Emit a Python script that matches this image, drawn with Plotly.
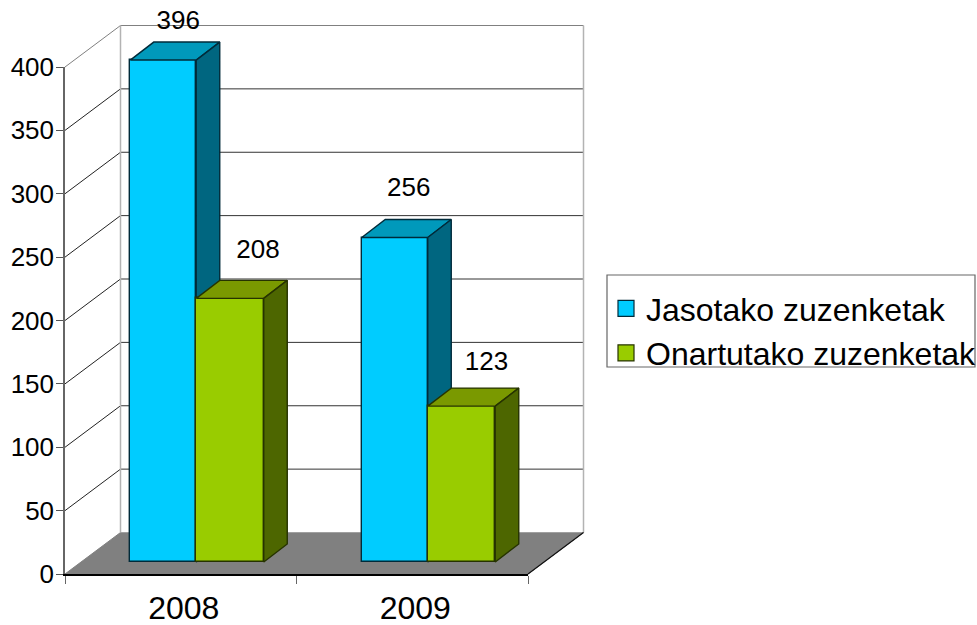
import plotly.graph_objects as go

# ---- data ----
years = ["2008", "2009"]
series_names = ["Jasotako zuzenketak", "Onartutako zuzenketak"]
received = [396, 256]
accepted = [208, 123]
y_ticks = [0, 50, 100, 150, 200, 250, 300, 350, 400]

# ---- pixel geometry of the oblique projection ----
L, R, T, B = 65, 528, 67, 574
W, H = 977, 625
PX_X = (R - L) / 2      # px per category
PX_Y = (B - T) / 400    # px per value unit
FONT = "Liberation Sans"

def ux(p): return p / PX_X
def uy(p): return p / PX_Y

WALL_X, WALL_Y = ux(55.5), uy(41.5)
FRONT_X, FRONT_Y = ux(15.5), uy(12)
DEPTH_X, DEPTH_Y = ux(23.5), uy(18)
BLUE_W, GREEN_W = ux(66), ux(67.5)

cats = list(range(len(years)))
x0, x1 = -0.5, 1.5
traces = []

def poly(xs, ys, fill, line, axes, width=1.4):
    traces.append(go.Scatter(x=xs + xs[:1], y=ys + ys[:1], mode="lines", fill="toself",
                             fillcolor=fill, line=dict(color=line, width=width), hoverinfo="skip",
                             showlegend=False, xaxis=axes[0], yaxis=axes[1]))

def seg(xs, ys, color, width=1):
    traces.append(go.Scatter(x=xs, y=ys, mode="lines", line=dict(color=color, width=width),
                             hoverinfo="skip", showlegend=False, xaxis="x", yaxis="y"))

# floor
poly([x0, x0 + WALL_X, x1 + WALL_X, x1], [0, WALL_Y, WALL_Y, 0], "#808080", "#808080", ("x", "y"), 1)
# walls and grid
for v in y_ticks:
    top = v == y_ticks[-1]
    if v > 0:
        seg([x0 + WALL_X, x1 + WALL_X], [v + WALL_Y] * 2, "#808080" if top else "#333333")
        seg([x0, x0 + WALL_X], [v, v + WALL_Y], "#808080" if top else "#222222")
seg([x0 + WALL_X] * 2, [WALL_Y, 400 + WALL_Y], "#b3b3b3", 1.5)
seg([x1 + WALL_X] * 2, [WALL_Y, 400 + WALL_Y], "#b3b3b3", 1.5)
seg([x0 + WALL_X, x1 + WALL_X], [WALL_Y, WALL_Y], "#a0a0a0", 1)
seg([x1, x1 + WALL_X], [0, WALL_Y], "#111111", 1.2)


def bars(values, offset, width, front, top, side, edge, name, axes):
    traces.append(go.Bar(x=cats, y=values, base=[FRONT_Y] * len(values), offset=offset, width=width,
                         marker=dict(color=front, line=dict(color=edge, width=1.4)), name=name,
                         showlegend=False, xaxis=axes[0], yaxis=axes[1]))
    for c, v in zip(cats, values):
        xl = c + offset
        xr = xl + width
        yb = FRONT_Y
        yt = FRONT_Y + v
        poly([xl, xl + DEPTH_X, xr + DEPTH_X, xr], [yt, yt + DEPTH_Y, yt + DEPTH_Y, yt], top, edge, axes)
        poly([xr, xr + DEPTH_X, xr + DEPTH_X, xr], [yt, yt + DEPTH_Y, yb + DEPTH_Y, yb], side, edge, axes)


bars(received, FRONT_X - BLUE_W, BLUE_W, "#00ccff", "#0099bb", "#006680", "#002b3a", series_names[0], ("x2", "y2"))
bars(accepted, FRONT_X, GREEN_W, "#99cc00", "#7a9900", "#4d6600", "#263300", series_names[1], ("x3", "y3"))

# data labels
label_dx = [[15, 14], [28, 25]]
label_dy = [[38, 48], [47, 43]]
for s, vals in enumerate([received, accepted]):
    base_off = (FRONT_X - BLUE_W / 2) if s == 0 else (FRONT_X + GREEN_W / 2)
    traces.append(go.Scatter(
        x=[c + base_off + ux(label_dx[s][i]) for i, c in enumerate(cats)],
        y=[v + FRONT_Y + uy(label_dy[s][i]) for i, v in enumerate(vals)],
        text=[str(v) for v in vals], mode="text", textposition="middle center",
        textfont=dict(family=FONT, size=26, color="#000000"),
        hoverinfo="skip", showlegend=False, xaxis="x3", yaxis="y3"))

# legend entries, attached to the subplot that carries the visible axes
for name, fill, edge in zip(series_names, ["#00ccff", "#99cc00"], ["#002b3a", "#263300"]):
    traces.append(go.Scatter(x=[None], y=[None], mode="markers", name=name, legendgroup=name,
                             marker=dict(symbol="square", size=16, color=fill, line=dict(color=edge, width=1.2)),
                             xaxis="x4", yaxis="y4"))

fig = go.Figure(traces)

# full-page hidden axes that share the scale of the visible ones
full_x = dict(range=[x0 - ux(L), x0 + ux(W - L)], domain=[0, 1], visible=False, fixedrange=True)
full_y = dict(range=[-uy(H - B), uy(B)], domain=[0, 1], visible=False, fixedrange=True)
full_x2 = dict(full_x, anchor="y2"); full_y2 = dict(full_y, anchor="x2")
full_x3 = dict(full_x, anchor="y3"); full_y3 = dict(full_y, anchor="x3")

fig.update_layout(
    width=W, height=H,
    margin=dict(l=0, r=0, t=0, b=0, autoexpand=False, pad=0),
    paper_bgcolor="white", plot_bgcolor="rgba(0,0,0,0)",
    font=dict(family=FONT, color="#000000"),
    bargap=0,
    xaxis=full_x, yaxis=full_y, xaxis2=full_x2, yaxis2=full_y2, xaxis3=full_x3, yaxis3=full_y3,
    xaxis4=dict(domain=[L / W, R / W], anchor="y4", range=[x0, x1], tickvals=cats, ticktext=years, ticks="",
                showgrid=False, zeroline=False, tickfont=dict(size=32), showline=True, linecolor="#000000",
                linewidth=1.5, ticklabelstandoff=5, ticklabelshift=3, fixedrange=True,
                minor=dict(tickvals=[-0.5, 0.5, 1.5], ticks="outside", ticklen=8, tickcolor="#666666", tickwidth=1.2,
                           showgrid=False)),
    yaxis4=dict(domain=[1 - B / H, 1 - T / H], anchor="x4", range=[0, 400], tickvals=y_ticks, ticks="outside",
                ticklen=7, tickcolor="#555555", tickwidth=1.2, showgrid=False, zeroline=False, showline=True,
                linecolor="#666666", linewidth=1.5, tickfont=dict(size=26), ticklabelstandoff=-3, fixedrange=True),
    showlegend=True,
    legend=dict(x=606 / W, y=1 - 281 / H, xanchor="left", yanchor="top", bgcolor="rgba(0,0,0,0)",
                font=dict(family=FONT, size=32), itemsizing="trace", tracegroupgap=12, borderwidth=0,
                traceorder="normal"),
    shapes=[dict(type="rect", xref="paper", yref="paper", x0=607 / W, x1=975 / W, y0=1 - 367 / H, y1=1 - 275 / H,
                 line=dict(color="#666666", width=1.2), fillcolor="rgba(0,0,0,0)", layer="below")],
)
fig.write_html("out.html", config=dict(displayModeBar=False), post_script="document.body.style.margin='0';")
